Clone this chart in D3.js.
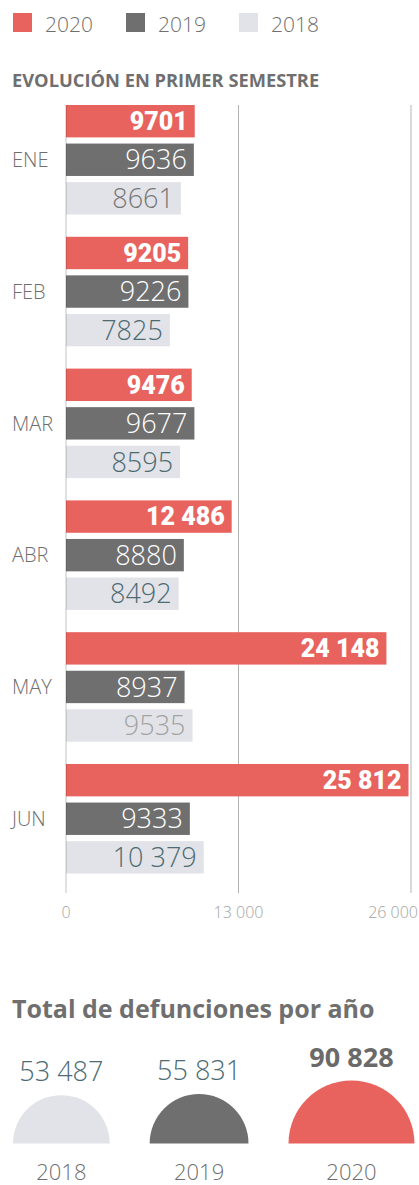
<!DOCTYPE html>
<html>
<head>
<meta charset="utf-8">
<script src="https://cdn.jsdelivr.net/npm/d3@7"></script>
<style>
  body { margin: 0; background: #fff; }
  svg { display: block; font-family: 'Open Sans', sans-serif; }
</style>
</head>
<body>
<div id="chart"></div>
<script>
// --- Data ---
const months = ['ENE', 'FEB', 'MAR', 'ABR', 'MAY', 'JUN'];
const years = ['2020', '2019', '2018'];
const deaths2020 = [9701, 9205, 9476, 12486, 24148, 25812];
const deaths2019 = [9636, 9226, 9677, 8880, 8937, 9333];
const deaths2018 = [8661, 7825, 8595, 8492, 9535, 10379];
const xTicks = [0, 13000, 26000];

const totalYears = ['2018', '2019', '2020'];
const totals = [53487, 55831, 90828];

// --- Styles ---
const colors = { '2020': '#e8625e', '2019': '#6f6f6f', '2018': '#e2e3e8' };
const labelColors = { '2020': '#fff', '2019': '#fff', '2018': '#4c6b72' };
const label2018Override = { ENE: '#777', MAY: '#a3a3a3' };
const grey = '#6f6f6f';

// spanish style: no separator under 10 000
const fmt = v => v >= 10000 ? d3.format(',')(v).replace(/,/g, ' ') : String(v);

const W = 419, H = 1185;
const svg = d3.select('#chart').append('svg')
    .attr('width', W)
    .attr('height', H);

// --- Legend ---
const legend = svg.append('g').selectAll('g')
    .data(years)
    .enter().append('g')
    .attr('transform', (d, i) => `translate(${13 + i * 113},13)`);

legend.append('rect')
    .attr('width', 19).attr('height', 19)
    .attr('fill', d => colors[d]);

legend.append('text')
    .attr('x', 32).attr('y', 18.5)
    .attr('font-size', 21)
    .attr('font-weight', 300)
    .attr('fill', grey)
    .text(d => d);

// --- Title ---
svg.append('text')
    .attr('x', 12).attr('y', 87)
    .attr('font-size', 18.3)
    .attr('font-weight', 700)
    .attr('fill', grey)
    .text('EVOLUCIÓN EN PRIMER SEMESTRE');

// --- Scales ---
const x = d3.scaleLinear().domain([0, 26000]).range([66, 411]);
const y0 = d3.scaleBand().domain(months).range([105, 873.5]).paddingInner(0.169);
const y1 = d3.scaleBand().domain(years).range([0, y0.bandwidth()]).paddingInner(0.16);

const rows = months.map((m, i) => ({
    month: m,
    values: [
        { year: '2020', v: deaths2020[i] },
        { year: '2019', v: deaths2019[i] },
        { year: '2018', v: deaths2018[i] }
    ]
}));

// --- Gridlines ---
svg.append('g').selectAll('line')
    .data(xTicks.filter(d => d > 0))
    .enter().append('line')
    .attr('x1', d => x(d)).attr('x2', d => x(d))
    .attr('y1', 105).attr('y2', 893)
    .attr('stroke', '#b3b3b3')
    .attr('stroke-width', 1);

// --- Bars ---
const groups = svg.append('g').selectAll('g')
    .data(rows)
    .enter().append('g')
    .attr('transform', d => `translate(0,${y0(d.month)})`);

groups.selectAll('rect')
    .data(d => d.values)
    .enter().append('rect')
    .attr('x', x(0))
    .attr('y', d => y1(d.year))
    .attr('width', d => x(d.v) - x(0))
    .attr('height', y1.bandwidth())
    .attr('fill', d => colors[d.year]);

groups.selectAll('text.val')
    .data(d => d.values.map(v => ({ ...v, month: d.month })))
    .enter().append('text')
    .attr('class', 'val')
    .attr('x', d => x(d.v) - 7)
    .attr('y', d => y1(d.year) + y1.bandwidth() / 2 + (d.year === '2020' ? 8.9 : 9.6))
    .attr('text-anchor', 'end')
    .attr('font-family', d => d.year === '2020' ? 'Roboto, sans-serif' : "'Open Sans', sans-serif")
    .attr('font-size', d => d.year === '2020' ? 25 : 27)
    .attr('font-weight', d => d.year === '2020' ? 900 : 300)
    .attr('fill', d => d.year === '2018' && label2018Override[d.month] ? label2018Override[d.month] : labelColors[d.year])
    .text(d => fmt(d.v));

// month labels
groups.append('text')
    .attr('x', 12)
    .attr('y', y1('2019') + y1.bandwidth() / 2 + 7.2)
    .attr('font-size', 20)
    .attr('font-weight', 300)
    .attr('fill', grey)
    .text(d => d.month);

// zero line on top of bars
svg.append('line')
    .attr('x1', x(0)).attr('x2', x(0))
    .attr('y1', 105).attr('y2', 893)
    .attr('stroke', 'rgba(0,0,0,0.2)')
    .attr('stroke-width', 1.2);

// --- Tick labels (last one pulled in so it stays inside the frame) ---
const lastTick = xTicks[xTicks.length - 1];
svg.append('g').selectAll('text')
    .data(xTicks)
    .enter().append('text')
    .attr('x', d => d === lastTick ? W - 1 : x(d))
    .attr('y', 918)
    .attr('text-anchor', d => d === lastTick ? 'end' : 'middle')
    .attr('font-size', 16)
    .attr('font-weight', 300)
    .attr('fill', '#a3a3a3')
    .text(d => fmt(d));

// --- Totals ---
svg.append('text')
    .attr('x', 12).attr('y', 1018)
    .attr('font-size', 25)
    .attr('font-weight', 700)
    .attr('fill', grey)
    .text('Total de defunciones por año');

const r = d3.scaleSqrt().domain([0, d3.max(totals)]).range([0, 63]);
const baseY = 1143.5;
const gap = 40;
let cursor = 13;
const circles = totals.map((v, i) => {
    const rad = r(v);
    const c = { year: totalYears[i], v: v, r: rad, cx: cursor + rad };
    cursor += rad * 2 + gap;
    return c;
});

const arc = d3.arc()
    .innerRadius(0)
    .startAngle(-Math.PI / 2)
    .endAngle(Math.PI / 2);

const tg = svg.append('g').selectAll('g')
    .data(circles)
    .enter().append('g')
    .attr('transform', d => `translate(${d.cx},${baseY})`);

tg.append('path')
    .attr('d', d => arc({ outerRadius: d.r }))
    .attr('fill', d => colors[d.year]);

tg.append('text')
    .attr('y', d => -d.r - 14)
    .attr('text-anchor', 'middle')
    .attr('font-size', 27)
    .attr('font-weight', d => d.year === '2020' ? 700 : 300)
    .attr('fill', d => d.year === '2020' ? '#6a6a6a' : '#4c6b72')
    .text(d => fmt(d.v));

tg.append('text')
    .attr('y', 1180 - baseY)
    .attr('text-anchor', 'middle')
    .attr('font-size', 22)
    .attr('font-weight', 300)
    .attr('fill', grey)
    .text(d => d.year);
</script>
</body>
</html>
